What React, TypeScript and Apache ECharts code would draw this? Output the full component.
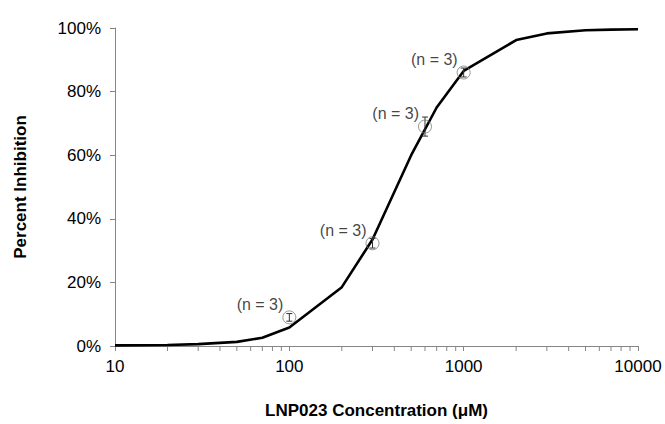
import React, { useEffect, useRef } from "react";
import * as echarts from "echarts";

const concentrations = [10, 20, 30, 50, 70, 100, 200, 300, 500, 700, 1000, 2000, 3000, 5000, 7000, 10000];
const fittedInhibition = [0.2, 0.3, 0.6, 1.3, 2.6, 5.8, 18.5, 33.5, 60, 75, 86.5, 96.2, 98.3, 99.3, 99.5, 99.6];

const measuredConc = [100, 300, 600, 1000];
const measuredMean = [9, 32.3, 69, 86];
const measuredErr = [1.2, 1.5, 3, 1.4];
const measuredLabels = ["(n = 3)", "(n = 3)", "(n = 3)", "(n = 3)"];

const minorTickValues = [20, 30, 40, 50, 60, 70, 80, 90, 200, 300, 400, 500, 600, 700, 800, 900, 2000, 3000, 4000, 5000, 6000, 7000, 8000, 9000];

const FONT = "'Liberation Sans', Arial, sans-serif";
const AXIS_COLOR = "#868686";

export default function App() {
  const ref = useRef<HTMLDivElement>(null);
  useEffect(() => {
    if (!ref.current) return;
    const chart = echarts.init(ref.current, null, { renderer: "svg" });
    chart.setOption({
      animation: false,
      backgroundColor: "#ffffff",
      grid: { left: 115, right: 27, top: 28, bottom: 77, containLabel: false },
      xAxis: {
        type: "log",
        logBase: 10,
        min: 10,
        max: 10000,
        name: "LNP023 Concentration (μM)",
        nameLocation: "middle",
        nameGap: 56,
        nameTextStyle: { fontFamily: FONT, fontWeight: "bold", fontSize: 17, color: "#000" },
        axisLine: { show: true, lineStyle: { color: AXIS_COLOR, width: 1 } },
        axisTick: { show: true, inside: false, length: 5, lineStyle: { color: AXIS_COLOR } },
        axisLabel: {
          fontFamily: FONT,
          fontSize: 17,
          color: "#000",
          margin: 12,
          formatter: (v: number) => String(Math.round(v)),
        },
        splitLine: { show: false },
        minorTick: { show: false },
      },
      yAxis: {
        type: "value",
        min: 0,
        max: 100,
        interval: 20,
        name: "Percent Inhibition",
        nameLocation: "middle",
        nameRotate: 90,
        nameGap: 86,
        nameTextStyle: { fontFamily: FONT, fontWeight: "bold", fontSize: 17, color: "#000" },
        axisLine: { show: true, lineStyle: { color: AXIS_COLOR, width: 1 } },
        axisTick: { show: true, inside: false, length: 5, lineStyle: { color: AXIS_COLOR } },
        axisLabel: { fontFamily: FONT, fontSize: 17, color: "#000", margin: 14, formatter: "{value}%" },
        splitLine: { show: false },
      },
      series: [
        {
          type: "custom",
          clip: false,
          silent: true,
          data: minorTickValues.map((v) => [v, 0]),
          renderItem: (params: any, api: any) => {
            const p = api.coord([api.value(0), api.value(1)]);
            return {
              type: "line",
              shape: { x1: p[0], y1: p[1], x2: p[0], y2: p[1] + 5 },
              style: { stroke: AXIS_COLOR, lineWidth: 1 },
            };
          },
        },
        {
          type: "line",
          data: concentrations.map((c, i) => [c, fittedInhibition[i]]),
          showSymbol: false,
          symbol: "none",
          lineStyle: { color: "#000", width: 2.6 },
          z: 3,
        },
        {
          type: "custom",
          clip: false,
          silent: true,
          z: 4,
          data: measuredConc.map((c, i) => [c, measuredMean[i] - measuredErr[i], measuredMean[i] + measuredErr[i]]),
          renderItem: (params: any, api: any) => {
            const lo = api.coord([api.value(0), api.value(1)]);
            const hi = api.coord([api.value(0), api.value(2)]);
            const w = 3;
            const st = { stroke: "#333", lineWidth: 1 };
            return {
              type: "group",
              children: [
                { type: "line", shape: { x1: lo[0], y1: lo[1], x2: hi[0], y2: hi[1] }, style: st },
                { type: "line", shape: { x1: lo[0] - w, y1: lo[1], x2: lo[0] + w, y2: lo[1] }, style: st },
                { type: "line", shape: { x1: hi[0] - w, y1: hi[1], x2: hi[0] + w, y2: hi[1] }, style: st },
              ],
            };
          },
        },
        {
          type: "scatter",
          data: measuredConc.map((c, i) => ({ value: [c, measuredMean[i]], label: measuredLabels[i] })),
          symbol: "circle",
          symbolSize: 13,
          itemStyle: { color: "rgba(0,0,0,0)", borderColor: "#7a7a7a", borderWidth: 1 },
          z: 5,
          label: {
            show: true,
            position: "left",
            distance: 0,
            offset: [1, -13],
            formatter: (p: any) => p.data.label,
            fontFamily: FONT,
            fontSize: 16,
            color: "#111",
          },
        },
      ],
    });
    return () => chart.dispose();
  }, []);
  return (
    <div
      ref={ref}
      style={{ position: "fixed", left: 0, top: 0, width: 665, height: 424, background: "#fff" }}
    />
  );
}
